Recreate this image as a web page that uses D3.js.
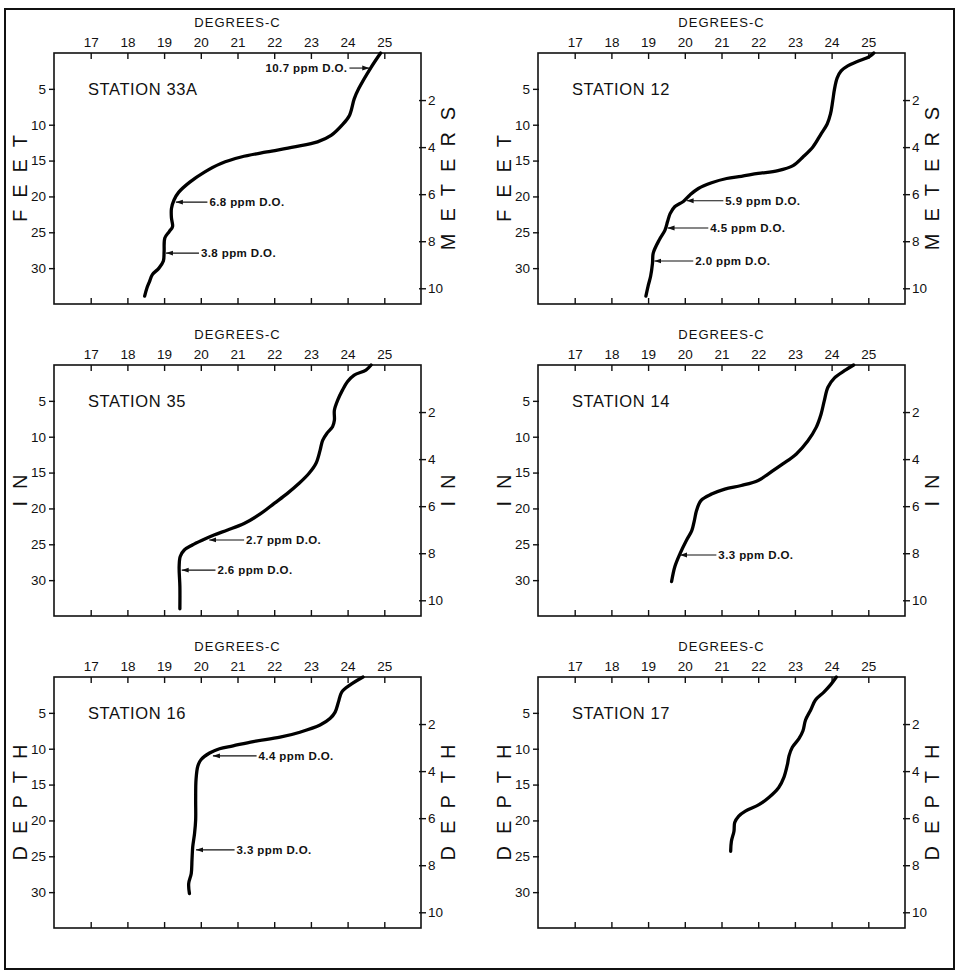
<!DOCTYPE html>
<html lang="en">
<head>
    <meta charset="UTF-8">
    <title>Temperature profiles by station</title>
    <style>
        body { margin: 0; background: #fff; font-family: "Liberation Sans", Arial, sans-serif; }
        .box { fill: none; stroke: #111; stroke-width: 1.6; }
        .axis path { display: none; }
        .axis line { stroke: #111; stroke-width: 1.4; }
        .axis text { font-size: 13.5px; fill: #111; font-family: "Liberation Sans", Arial, sans-serif; }
        .profile { fill: none; stroke: #000; stroke-width: 3.3; stroke-linejoin: round; stroke-linecap: round; }
        .note line { stroke: #111; stroke-width: 1.1; }
        .note text { font-size: 11.5px; font-weight: bold; fill: #111; letter-spacing: 0.4px; dominant-baseline: central; }
    </style>
</head>
<body>
    <script src="https://d3js.org/d3.v7.min.js"></script>
    <script>
        // station profiles: depth in feet, temperature in degrees C
        const stations = ["STATION 33A", "STATION 12", "STATION 35", "STATION 14", "STATION 16", "STATION 17"];

        const depth33A = [0, 2, 5, 6.4, 8.7, 10, 11.5, 12.4, 13.1, 13.8, 14.5, 15.4, 16.6, 18, 19.4, 20.5, 21.7, 23, 24.2, 24.9, 25.8, 27.7, 29, 30, 30.9, 31.9, 32.8, 33.9];
        const temp33A  = [24.9, 24.64, 24.3, 24.18, 24.05, 23.86, 23.55, 23.18, 22.55, 21.8, 21.1, 20.55, 20.1, 19.7, 19.4, 19.27, 19.2, 19.2, 19.23, 19.14, 19.02, 19.0, 18.98, 18.86, 18.68, 18.6, 18.53, 18.47];

        const depth12 = [0, 0.5, 1.2, 1.8, 2.5, 3.5, 5, 6.7, 8.5, 9.9, 11.3, 13.1, 14.5, 15.7, 16.4, 16.8, 17.2, 17.5, 18.1, 18.9, 19.8, 20.7, 21.4, 22.4, 23.5, 24.7, 26, 27.9, 29.3, 31.1, 32.5, 33.9];
        const temp12  = [25.15, 25.03, 24.7, 24.44, 24.26, 24.15, 24.08, 24.03, 23.97, 23.88, 23.71, 23.49, 23.22, 22.95, 22.54, 22.0, 21.54, 21.14, 20.73, 20.37, 20.14, 19.96, 19.73, 19.6, 19.53, 19.46, 19.31, 19.14, 19.12, 19.07, 19.0, 18.94];

        const depth35 = [0, 0.7, 1.4, 2.3, 3.5, 4.9, 6.3, 7.7, 8.6, 9.5, 10.5, 11.9, 13.7, 15.1, 16.5, 17.9, 19.3, 20.7, 22.1, 23.0, 23.7, 24.4, 25.1, 25.8, 26.7, 28.1, 30.9, 34];
        const temp35  = [24.64, 24.5, 24.18, 24.0, 23.86, 23.73, 23.64, 23.64, 23.59, 23.44, 23.32, 23.25, 23.14, 22.95, 22.68, 22.36, 22.0, 21.64, 21.18, 20.73, 20.36, 20.05, 19.77, 19.55, 19.44, 19.41, 19.43, 19.43];

        const depth14 = [0, 0.8, 1.8, 3.1, 5, 6.9, 8.7, 10.6, 12.4, 13.8, 15.2, 16.1, 16.8, 17.3, 18, 18.9, 20.3, 21.7, 23.1, 24.4, 26.3, 28.1, 30.2];
        const temp14  = [24.6, 24.35, 24.08, 23.9, 23.8, 23.71, 23.58, 23.35, 23.04, 22.67, 22.27, 22.0, 21.54, 21.09, 20.73, 20.44, 20.32, 20.26, 20.19, 20.05, 19.87, 19.73, 19.64];

        const depth16 = [0, 1.1, 2.1, 3.5, 4.9, 5.8, 6.7, 7.7, 8.4, 9.0, 9.6, 10.0, 10.6, 11.5, 12.4, 14.3, 17.1, 19.9, 21.8, 23.7, 25.5, 27.4, 28.8, 30.2];
        const temp16  = [24.42, 24.07, 23.84, 23.75, 23.66, 23.52, 23.25, 22.7, 22.16, 21.43, 20.88, 20.51, 20.24, 20.01, 19.92, 19.87, 19.86, 19.86, 19.83, 19.78, 19.76, 19.74, 19.67, 19.69];

        const depth17 = [0, 1.1, 2.1, 3.2, 4.6, 6.0, 7.5, 8.6, 9.8, 11.0, 12.1, 14.0, 15.4, 16.8, 17.8, 18.7, 19.4, 20.3, 21.5, 22.9, 24.3];
        const temp17  = [24.13, 23.97, 23.79, 23.56, 23.43, 23.29, 23.22, 23.11, 22.93, 22.84, 22.8, 22.7, 22.56, 22.29, 22.02, 21.65, 21.47, 21.36, 21.34, 21.27, 21.25];

        // dissolved oxygen notes: depth (ft), arrow tip temp, arrow tail temp
        const notes33A = [
            {depth: 2.1, tip: 24.59, tail: 24.05, label: "10.7 ppm D.O.", left: true},
            {depth: 20.8, tip: 19.32, tail: 20.18, label: "6.8 ppm D.O."},
            {depth: 27.9, tip: 19.05, tail: 19.95, label: "3.8 ppm D.O."}
        ];
        const notes12 = [
            {depth: 20.6, tip: 20.05, tail: 21.05, label: "5.9 ppm D.O."},
            {depth: 24.4, tip: 19.53, tail: 20.64, label: "4.5 ppm D.O."},
            {depth: 29.0, tip: 19.17, tail: 20.23, label: "2.0 ppm D.O."}
        ];
        const notes35 = [
            {depth: 24.4, tip: 20.23, tail: 21.18, label: "2.7 ppm D.O."},
            {depth: 28.6, tip: 19.48, tail: 20.4, label: "2.6 ppm D.O."}
        ];
        const notes14 = [
            {depth: 26.5, tip: 19.87, tail: 20.86, label: "3.3 ppm D.O."}
        ];
        const notes16 = [
            {depth: 11.0, tip: 20.33, tail: 21.52, label: "4.4 ppm D.O."},
            {depth: 24.1, tip: 19.87, tail: 20.92, label: "3.3 ppm D.O."}
        ];
        const notes17 = [];

        const tempTicks = [17, 18, 19, 20, 21, 22, 23, 24, 25];
        const feetTicks = [5, 10, 15, 20, 25, 30];
        const meterTicks = [2, 4, 6, 8, 10];
        const leftWords = ["FEET", "IN", "DEPTH"];
        const rightWords = ["METERS", "IN", "DEPTH"];

        const depths = [depth33A, depth12, depth35, depth14, depth16, depth17];
        const temps = [temp33A, temp12, temp35, temp14, temp16, temp17];
        const notes = [notes33A, notes12, notes35, notes14, notes16, notes17];

        const width = 955, height = 973;
        const colX = [54, 538];
        const rowY = [53, 365, 677];
        const pw = 367, ph = 251;
        const FT_PER_M = 3.2808;

        const svg = d3.select("body").append("svg")
            .attr("width", width)
            .attr("height", height);

        svg.append("defs").append("marker")
            .attr("id", "arrow")
            .attr("viewBox", "0 0 10 10")
            .attr("refX", 10).attr("refY", 5)
            .attr("markerWidth", 7).attr("markerHeight", 7)
            .attr("markerUnits", "userSpaceOnUse")
            .attr("orient", "auto")
            .append("path")
            .attr("d", "M0,1.5 L10,5 L0,8.5 Z")
            .attr("fill", "#111");

        // outer frame
        svg.append("rect")
            .attr("x", 5).attr("y", 9)
            .attr("width", 949).attr("height", 960)
            .attr("fill", "none")
            .attr("stroke", "#111")
            .attr("stroke-width", 2);

        function vertWord(g, word, x, y) {
            g.append("text")
                .attr("transform", `translate(${x},${y}) rotate(-90)`)
                .attr("text-anchor", "middle")
                .attr("dominant-baseline", "central")
                .attr("dx", 6)
                .style("font-size", "20px")
                .style("letter-spacing", "12px")
                .style("fill", "#111")
                .text(word);
        }

        stations.forEach((name, i) => {
            const col = i % 2, row = Math.floor(i / 2);
            const g = svg.append("g")
                .attr("transform", `translate(${colX[col]},${rowY[row]})`);

            const x = d3.scaleLinear().domain([16, 26]).range([0, pw]);
            const y = d3.scaleLinear().domain([0, 35]).range([0, ph]);
            const ym = d3.scaleLinear().domain([0, 35 / FT_PER_M]).range([0, ph]);

            // top axis (inward ticks, labels above)
            const top = g.append("g").attr("class", "axis")
                .call(d3.axisTop(x).tickValues(tempTicks).tickSize(0).tickPadding(6));
            top.selectAll(".tick line").attr("y1", 0).attr("y2", 6);

            const bottom = g.append("g").attr("class", "axis")
                .attr("transform", `translate(0,${ph})`)
                .call(d3.axisBottom(x).tickValues(tempTicks).tickSize(0).tickFormat(""));
            bottom.selectAll(".tick line").attr("y1", 0).attr("y2", -6);

            const left = g.append("g").attr("class", "axis")
                .call(d3.axisLeft(y).tickValues(feetTicks).tickSize(5).tickPadding(3));
            left.selectAll(".tick line").attr("x2", -5).attr("x1", 1);

            const right = g.append("g").attr("class", "axis")
                .attr("transform", `translate(${pw},0)`)
                .call(d3.axisRight(ym).tickValues(meterTicks).tickSize(5).tickPadding(2));
            right.selectAll(".tick line").attr("x1", -2).attr("x2", 5);

            g.append("rect").attr("class", "box")
                .attr("width", pw).attr("height", ph);

            g.append("text")
                .attr("x", pw / 2).attr("y", -26)
                .attr("text-anchor", "middle")
                .style("font-size", "13px")
                .style("letter-spacing", "1px")
                .style("fill", "#111")
                .text("DEGREES-C");

            g.append("text")
                .attr("x", 34).attr("y", 42)
                .style("font-size", "16.5px")
                .style("letter-spacing", "0.6px")
                .style("fill", "#111")
                .text(name);

            vertWord(g, leftWords[row], -34, ph / 2);
            vertWord(g, rightWords[row], pw + 27, ph / 2);

            const pts = depths[i].map((d, k) => [temps[i][k], d]);
            const line = d3.line()
                .x(p => x(p[0]))
                .y(p => y(p[1]))
                .curve(d3.curveCatmullRom.alpha(0.5));
            g.append("path").attr("class", "profile").attr("d", line(pts));

            const ng = g.selectAll(".note").data(notes[i]).enter()
                .append("g").attr("class", "note");
            ng.append("line")
                .attr("x1", n => x(n.tail)).attr("x2", n => x(n.tip))
                .attr("y1", n => y(n.depth)).attr("y2", n => y(n.depth))
                .attr("marker-end", "url(#arrow)");
            ng.append("text")
                .attr("x", n => n.left ? x(n.tail) - 2 : x(n.tail) + 2)
                .attr("y", n => y(n.depth))
                .attr("text-anchor", n => n.left ? "end" : "start")
                .text(n => n.label);
        });
    </script>
</body>
</html>
